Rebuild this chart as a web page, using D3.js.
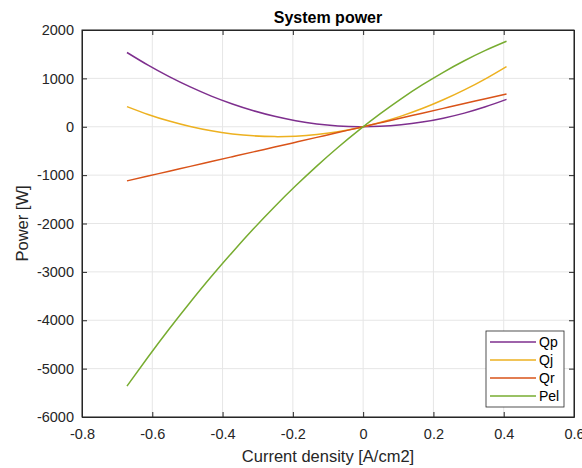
<!DOCTYPE html>
<html lang="en">
<head>
<meta charset="UTF-8">
<script src="https://d3js.org/d3.v7.min.js"></script>
<title>System power</title>
<style>
  body { margin: 0; background: #ffffff; }
  svg text { font-family: "Liberation Sans", Arial, Helvetica, sans-serif; fill: #262626; }
</style>
</head>
<body>
<div id="chart"></div>
<script>
// current density samples [A/cm2]
const currentDensity = [-0.672, -0.612, -0.552, -0.492, -0.432, -0.372, -0.312, -0.252, -0.192, -0.132,
                        -0.072, -0.012, 0.048, 0.108, 0.168, 0.228, 0.288, 0.348, 0.408];
const qp  = [1535, 1273, 1036, 823, 634, 471, 331, 216, 125, 59, 18, 0, 8, 40, 96, 177, 282, 412, 566];
const qj  = [416, 254, 117, 4, -85, -148, -188, -204, -195, -161, -102, -20, 88, 220, 376, 557, 762, 991, 1245];
const qr  = [-1119, -1019, -919, -819, -719, -619, -519, -420, -320, -220, -120, -20, 80, 180, 280, 380, 480, 579, 679];
const pel = [-5361, -4759, -4180, -3627, -3096, -2592, -2110, -1653, -1221, -813, -428, -69, 266, 578, 864, 1126, 1364, 1578, 1767];

const seriesNames = ["Qp", "Qj", "Qr", "Pel"];
const seriesColors = ["#7E2F8E", "#EDB120", "#D95319", "#77AC30"];
const xTicks = [-0.8, -0.6, -0.4, -0.2, 0, 0.2, 0.4, 0.6];
const yTicks = [2000, 1000, 0, -1000, -2000, -3000, -4000, -5000, -6000];

const width = 582, height = 468;
const margin = { top: 30, right: 8, bottom: 51, left: 82 };
const innerW = width - margin.left - margin.right;
const innerH = height - margin.top - margin.bottom;

const svg = d3.select("#chart").append("svg")
    .attr("width", width)
    .attr("height", height);

const g = svg.append("g").attr("transform", `translate(${margin.left},${margin.top})`);

const x = d3.scaleLinear().domain([-0.8, 0.6]).range([0, innerW]);
const y = d3.scaleLinear().domain([-6000, 2000]).range([innerH, 0]);

// grid
g.append("g").selectAll("line").data(xTicks).enter().append("line")
    .attr("x1", d => x(d)).attr("x2", d => x(d))
    .attr("y1", 0).attr("y2", innerH)
    .attr("stroke", "#e6e6e6").attr("stroke-width", 1);
g.append("g").selectAll("line").data(yTicks).enter().append("line")
    .attr("x1", 0).attr("x2", innerW)
    .attr("y1", d => y(d)).attr("y2", d => y(d))
    .attr("stroke", "#e6e6e6").attr("stroke-width", 1);

// axes (ticks inside, box style)
const fmtX = d => d === 0 ? "0" : d3.format(".1f")(d).replace("−", "-");
const fmtY = d => String(d);

g.append("g").attr("transform", `translate(0,${innerH})`)
    .call(d3.axisBottom(x).tickValues(xTicks).tickSizeInner(-5).tickSizeOuter(0).tickPadding(12).tickFormat(fmtX))
    .call(a => a.selectAll("text").attr("font-size", 14.5));
g.append("g")
    .call(d3.axisTop(x).tickValues(xTicks).tickSizeInner(-5).tickSizeOuter(0).tickFormat(""));
g.append("g")
    .call(d3.axisLeft(y).tickValues(yTicks).tickSizeInner(-5).tickSizeOuter(0).tickPadding(8).tickFormat(fmtY))
    .call(a => a.selectAll("text").attr("font-size", 14.5));
g.append("g").attr("transform", `translate(${innerW},0)`)
    .call(d3.axisRight(y).tickValues(yTicks).tickSizeInner(-5).tickSizeOuter(0).tickFormat(""));

g.selectAll(".domain").attr("stroke", "#262626");
g.selectAll(".tick line").attr("stroke", "#262626");
g.selectAll(".tick text").attr("fill", "#262626");

g.append("rect")
    .attr("width", innerW).attr("height", innerH)
    .attr("fill", "none").attr("stroke", "#262626").attr("stroke-width", 1);

// lines
const allSeries = [qp, qj, qr, pel];
const line = d3.line()
    .x((d, i) => x(currentDensity[i]))
    .y(d => y(d))
    .curve(d3.curveNatural);

g.append("g").selectAll("path").data(allSeries).enter().append("path")
    .attr("d", d => line(d))
    .attr("fill", "none")
    .attr("stroke", (d, i) => seriesColors[i])
    .attr("stroke-width", 1.5);

// title and labels
svg.append("text")
    .attr("x", margin.left + innerW / 2).attr("y", 23)
    .attr("text-anchor", "middle")
    .attr("font-size", 16).attr("font-weight", "bold")
    .style("fill", "#000")
    .text("System power");

svg.append("text")
    .attr("x", margin.left + innerW / 2).attr("y", 462)
    .attr("text-anchor", "middle")
    .attr("font-size", 16.5)
    .text("Current density [A/cm2]");

svg.append("text")
    .attr("transform", `translate(28,${margin.top + innerH / 2}) rotate(-90)`)
    .attr("text-anchor", "middle")
    .attr("font-size", 16.5)
    .text("Power [W]");

// legend
const legend = svg.append("g").attr("transform", "translate(486,331)");
legend.append("rect")
    .attr("width", 78).attr("height", 76)
    .attr("fill", "#fff").attr("stroke", "#262626").attr("stroke-width", 0.8);
const rows = legend.selectAll(".row").data(seriesNames).enter().append("g")
    .attr("transform", (d, i) => `translate(0,${11 + i * 18})`);
rows.append("line")
    .attr("x1", 4).attr("x2", 50)
    .attr("stroke", (d, i) => seriesColors[i]).attr("stroke-width", 1.5);
rows.append("text")
    .attr("x", 53).attr("y", 5)
    .attr("font-size", 14)
    .style("fill", "#000")
    .text(d => d);
</script>
</body>
</html>
